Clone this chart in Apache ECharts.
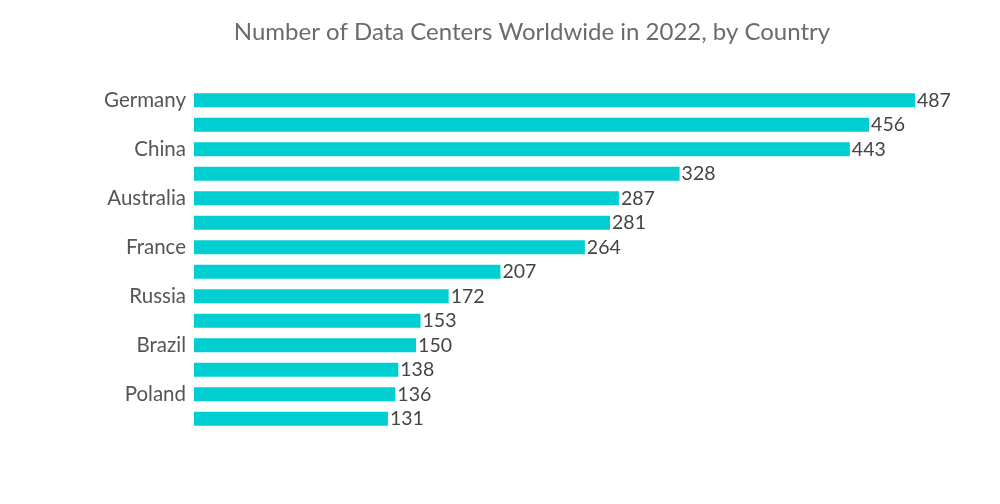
<!DOCTYPE html>
<html><head><meta charset="utf-8">
<script src="https://cdn.jsdelivr.net/npm/echarts@6/dist/echarts.min.js"></script>
<style>html,body{margin:0;padding:0;background:#fff}#c{width:1000px;height:504px}</style>
</head><body><div id="c"></div>
<script>
var categories = ["Germany","United Kingdom","China","Canada","Australia","Netherlands","France","Japan","Russia","Mexico","Brazil","Italy","Poland","India"];
var values = [487,456,443,328,287,281,264,207,172,153,150,138,136,131];
var titleText = "Number of Data Centers Worldwide in 2022, by Country";
var FONT = "Lato, 'Noto Sans', sans-serif";
var chart = echarts.init(document.getElementById('c'));
chart.setOption({
  animation:false,
  title:{text:titleText,left:527,top:15,textAlign:'center',textStyle:{color:'#6b6b6b',fontSize:24,fontWeight:'normal',fontFamily:FONT}},
  grid:{left:194,right:85,top:88,bottom:73,containLabel:false},
  xAxis:{type:'value',min:0,max:487,show:false},
  yAxis:{type:'category',data:categories,inverse:true,
    axisLine:{show:false},axisTick:{show:false},
    axisLabel:{interval:1,color:'#555',fontSize:20.5,fontFamily:FONT,margin:8}},
  series:[{type:'bar',data:values,barWidth:14,itemStyle:{color:'#00CED1'},
    label:{show:true,position:'right',distance:2,color:'#444',fontSize:19.5,fontFamily:FONT}}]
});
</script></body></html>
